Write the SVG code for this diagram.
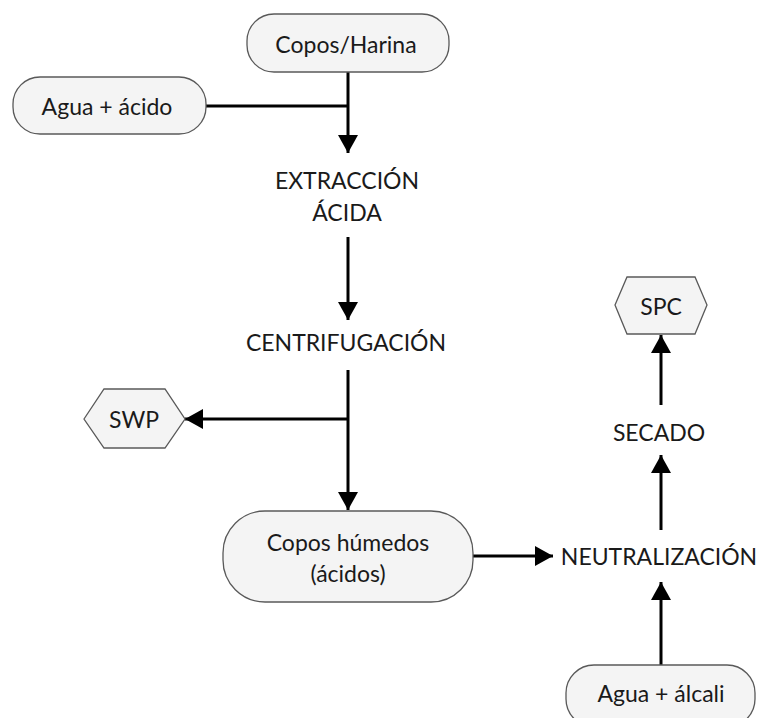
<svg xmlns="http://www.w3.org/2000/svg" width="757" height="718" viewBox="0 0 757 718">
<defs>
<style>
.box{fill:#f4f4f4;stroke:#595959;stroke-width:1.3}
.t{font-family:Lato,"Open Sans",sans-serif;font-size:23px;fill:#1a1a1a;text-anchor:middle;dominant-baseline:central}
.c{stroke:#000;stroke-width:3;fill:none}
</style>
<marker id="ah" viewBox="0 0 20 20" refX="18" refY="10" markerWidth="20" markerHeight="20" markerUnits="userSpaceOnUse" orient="auto">
<path d="M0,0 L18,10 L0,20 Z" fill="#000"/>
</marker>
</defs>
<rect width="757" height="718" fill="#fff"/>
<g id="connectors">
<path class="c" d="M348,72 V153" marker-end="url(#ah)"/>
<path class="c" d="M206,106 H348"/>
<path class="c" d="M348,237 V320" marker-end="url(#ah)"/>
<path class="c" d="M348,370 V510" marker-end="url(#ah)"/>
<path class="c" d="M348,419 H185" marker-end="url(#ah)"/>
<path class="c" d="M473,556 H553" marker-end="url(#ah)"/>
<path class="c" d="M661,665 V582" marker-end="url(#ah)"/>
<path class="c" d="M661,530 V455" marker-end="url(#ah)"/>
<path class="c" d="M661,405 V335" marker-end="url(#ah)"/>
</g>
<g id="copos-harina">
<rect class="box" x="247" y="14" width="202" height="58" rx="27"/>
<text class="t" x="346" y="44">Copos/Harina</text>
</g>
<g id="agua-acido">
<rect class="box" x="13" y="77" width="193" height="57" rx="27"/>
<text class="t" x="107" y="106">Agua + ácido</text>
</g>
<g id="extraccion">
<text class="t" x="347" y="180">EXTRACCIÓN</text>
<text class="t" x="347" y="212">ÁCIDA</text>
</g>
<g id="centrifugacion">
<text class="t" x="346" y="342">CENTRIFUGACIÓN</text>
</g>
<g id="swp">
<polygon class="box" points="84,419 104,389 165,389 185,419 165,448 104,448"/>
<text class="t" x="134" y="419">SWP</text>
</g>
<g id="copos-humedos">
<rect class="box" x="223" y="511" width="250" height="91" rx="42"/>
<text class="t" x="348" y="542">Copos húmedos</text>
<text class="t" x="348" y="573">(ácidos)</text>
</g>
<g id="neutralizacion">
<text class="t" x="659" y="556">NEUTRALIZACIÓN</text>
</g>
<g id="agua-alcali">
<rect class="box" x="566" y="665" width="189" height="62" rx="28"/>
<text class="t" x="661" y="693">Agua + álcali</text>
</g>
<g id="secado">
<text class="t" x="659" y="432">SECADO</text>
</g>
<g id="spc">
<polygon class="box" points="615,305 627,277 695,277 707,305 695,334 627,334"/>
<text class="t" x="661" y="306">SPC</text>
</g>
</svg>
